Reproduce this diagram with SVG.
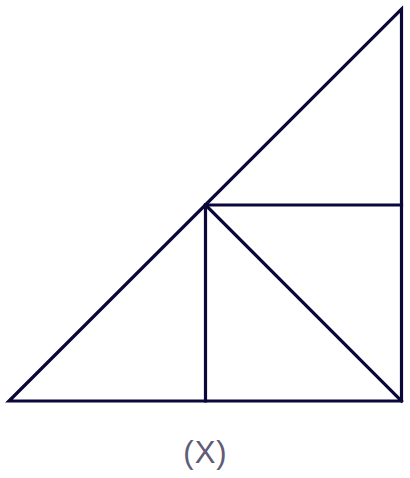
<svg xmlns="http://www.w3.org/2000/svg" width="410" height="478" viewBox="0 0 410 478">
<style>
.e{stroke:#0a0838;stroke-width:3.2;fill:none;stroke-linecap:square;stroke-linejoin:miter}
.l{font-family:"Liberation Sans",Arial,sans-serif;font-size:31px;fill:#605c78;text-anchor:middle}
</style>
<rect width="410" height="478" fill="#ffffff"/>
<g id="outer"><path class="e" d="M9,401 L401.5,9 L401.5,401 Z"/></g>
<g id="connectors">
<path class="e" d="M205.5,205 L205.5,401"/>
<path class="e" d="M205.5,205 L401.5,205"/>
<path class="e" d="M205.5,205 L401.5,401"/>
</g>
<g id="label"><text class="l" x="205.5" y="463" letter-spacing="1">(X)</text></g>
</svg>
